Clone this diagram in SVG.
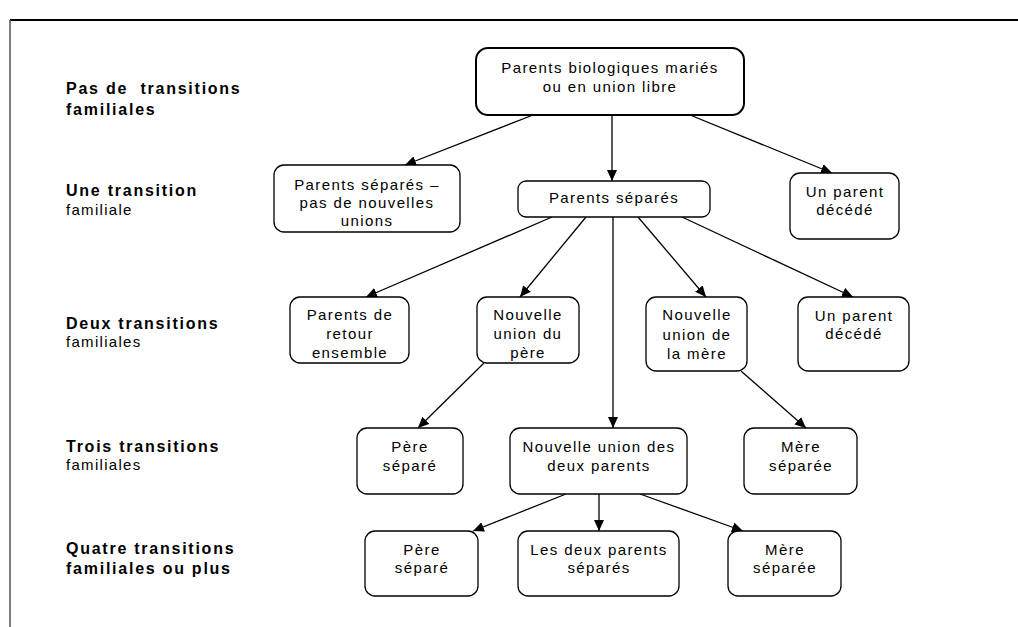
<svg xmlns="http://www.w3.org/2000/svg" width="1018" height="627" viewBox="0 0 1018 627">
<style>
  .box{fill:#fff;stroke:#000;stroke-width:1.3}
  .t{font-family:"Liberation Sans",Arial,sans-serif;font-size:15px;letter-spacing:1.4px;text-anchor:middle;fill:#000}
  .lb{font-family:"Liberation Sans",Arial,sans-serif;font-size:16px;font-weight:bold;letter-spacing:1.75px;fill:#000}
  .ln{font-family:"Liberation Sans",Arial,sans-serif;font-size:15px;letter-spacing:1.3px;fill:#000}
  .c{fill:none;stroke:#000;stroke-width:1.3}
</style>
<defs>
  <marker id="arr" markerUnits="userSpaceOnUse" markerWidth="11" markerHeight="10" refX="11" refY="5" orient="auto">
    <path d="M0,0 L11,5 L0,10 z" fill="#000"/>
  </marker>
</defs>
<rect width="1018" height="627" fill="#fff"/>
<g id="frame">
  <line x1="10" y1="20" x2="1018" y2="20" stroke="#000" stroke-width="2"/>
  <line x1="10" y1="20" x2="10" y2="627" stroke="#555" stroke-width="1.5"/>
</g>
<g id="labels">
  <text class="lb" x="66" y="94">Pas de&#160; transitions</text>
  <text class="lb" x="66" y="115">familiales</text>
  <text class="lb" x="66" y="196">Une transition</text>
  <text class="ln" x="66" y="215">familiale</text>
  <text class="lb" x="66" y="329">Deux transitions</text>
  <text class="ln" x="66" y="347">familiales</text>
  <text class="lb" x="66" y="452">Trois transitions</text>
  <text class="ln" x="66" y="470">familiales</text>
  <text class="lb" x="66" y="554">Quatre transitions</text>
  <text class="lb" x="66" y="574">familiales ou plus</text>
</g>
<g id="connectors">
  <line class="c" x1="533" y1="115" x2="405" y2="165" marker-end="url(#arr)"/>
  <line class="c" x1="612" y1="115" x2="612" y2="181" marker-end="url(#arr)"/>
  <line class="c" x1="690" y1="115" x2="832" y2="173" marker-end="url(#arr)"/>
  <line class="c" x1="552" y1="217" x2="366" y2="297" marker-end="url(#arr)"/>
  <line class="c" x1="586" y1="217" x2="520" y2="297" marker-end="url(#arr)"/>
  <line class="c" x1="613" y1="217" x2="613" y2="428" marker-end="url(#arr)"/>
  <line class="c" x1="638" y1="217" x2="706" y2="297" marker-end="url(#arr)"/>
  <line class="c" x1="682" y1="217" x2="853" y2="297" marker-end="url(#arr)"/>
  <line class="c" x1="484" y1="363" x2="418" y2="428" marker-end="url(#arr)"/>
  <line class="c" x1="741" y1="371" x2="806" y2="428" marker-end="url(#arr)"/>
  <line class="c" x1="566" y1="494" x2="473" y2="531" marker-end="url(#arr)"/>
  <line class="c" x1="599" y1="494" x2="599" y2="531" marker-end="url(#arr)"/>
  <line class="c" x1="640" y1="494" x2="743" y2="531" marker-end="url(#arr)"/>
</g>
<g id="n1">
  <rect class="box" x="476" y="48" width="268" height="67" rx="12" style="stroke-width:2"/>
  <text class="t" x="610" y="73">Parents biologiques mariés</text>
  <text class="t" x="610" y="92">ou en union libre</text>
</g>
<g id="n2">
  <rect class="box" x="274" y="165" width="186" height="67" rx="10"/>
  <text class="t" x="367" y="190">Parents séparés –</text>
  <text class="t" x="367" y="208">pas de nouvelles</text>
  <text class="t" x="367" y="226">unions</text>
</g>
<g id="n3">
  <rect class="box" x="518" y="181" width="192" height="36" rx="8"/>
  <text class="t" x="614" y="203">Parents séparés</text>
</g>
<g id="n4">
  <rect class="box" x="790" y="173" width="109" height="66" rx="10"/>
  <text class="t" x="845" y="197">Un parent</text>
  <text class="t" x="845" y="215">décédé</text>
</g>
<g id="n5">
  <rect class="box" x="290" y="297" width="119" height="66" rx="10"/>
  <text class="t" x="350" y="320">Parents de</text>
  <text class="t" x="350" y="339">retour</text>
  <text class="t" x="350" y="358">ensemble</text>
</g>
<g id="n6">
  <rect class="box" x="477" y="297" width="102" height="66" rx="10"/>
  <text class="t" x="528" y="320">Nouvelle</text>
  <text class="t" x="528" y="339">union du</text>
  <text class="t" x="528" y="358">père</text>
</g>
<g id="n7">
  <rect class="box" x="646" y="297" width="101" height="74" rx="10"/>
  <text class="t" x="697" y="320">Nouvelle</text>
  <text class="t" x="697" y="340">union de</text>
  <text class="t" x="697" y="359">la mère</text>
</g>
<g id="n8">
  <rect class="box" x="798" y="297" width="111" height="74" rx="10"/>
  <text class="t" x="854" y="321">Un parent</text>
  <text class="t" x="854" y="339">décédé</text>
</g>
<g id="n9">
  <rect class="box" x="357" y="428" width="106" height="66" rx="10"/>
  <text class="t" x="410" y="452">Père</text>
  <text class="t" x="410" y="471">séparé</text>
</g>
<g id="n10">
  <rect class="box" x="510" y="428" width="177" height="66" rx="10"/>
  <text class="t" x="599" y="452">Nouvelle union des</text>
  <text class="t" x="599" y="471">deux parents</text>
</g>
<g id="n11">
  <rect class="box" x="744" y="428" width="113" height="66" rx="10"/>
  <text class="t" x="801" y="452">Mère</text>
  <text class="t" x="801" y="471">séparée</text>
</g>
<g id="n12">
  <rect class="box" x="365" y="531" width="113" height="65" rx="10"/>
  <text class="t" x="422" y="555">Père</text>
  <text class="t" x="422" y="573">séparé</text>
</g>
<g id="n13">
  <rect class="box" x="518" y="531" width="161" height="65" rx="10"/>
  <text class="t" x="599" y="555">Les deux parents</text>
  <text class="t" x="599" y="573">séparés</text>
</g>
<g id="n14">
  <rect class="box" x="728" y="531" width="113" height="65" rx="10"/>
  <text class="t" x="785" y="555">Mère</text>
  <text class="t" x="785" y="573">séparée</text>
</g>
</svg>
